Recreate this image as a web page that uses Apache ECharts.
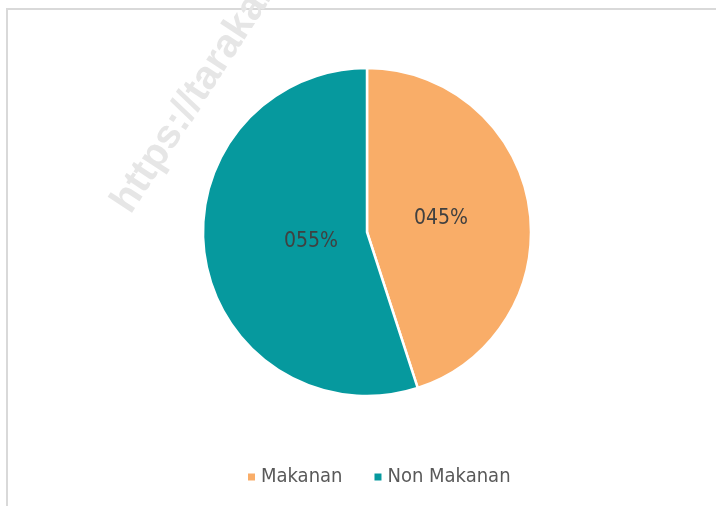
<!DOCTYPE html>
<html>
<head>
<meta charset="utf-8">
<script src="https://cdn.jsdelivr.net/npm/echarts@6/dist/echarts.min.js"></script>
<style>
  html, body { margin: 0; padding: 0; background: #fff; }
  #chart { width: 716px; height: 506px; }
</style>
</head>
<body>
<div id="chart"></div>
<script>
var categories = ['Makanan', 'Non Makanan'];
var shares = [45, 55];
var colors = ['#F9AD68', '#06999E'];

var font = '"DejaVu Sans Condensed", "Liberation Sans Narrow", "Arial Narrow", sans-serif';

var myChart = echarts.init(document.getElementById('chart'));
var option = {
  backgroundColor: '#fff',
  color: colors,
  graphic: [
    {
      type: 'rect',
      z: 0,
      shape: { x: 7, y: 9, width: 720, height: 510 },
      style: { fill: 'none', stroke: '#d9d9d9', lineWidth: 2 }
    },
    {
      type: 'text',
      z: 0,
      x: 138, y: 220,
      rotation: 57 * Math.PI / 180,
      style: {
        text: 'https://tarakankota.bps.go.id',
        fontSize: 40,
        fontWeight: 'bold',
        fontFamily: '"Liberation Sans", Arial, sans-serif',
        fill: '#e6e6e6',
        textVerticalAlign: 'bottom'
      }
    }
  ],
  legend: {
    bottom: 14,
    left: 241,
    icon: 'rect',
    itemWidth: 9,
    itemHeight: 9,
    itemGap: 30,
    textStyle: { fontSize: 20, color: '#595959', fontFamily: font },
    data: categories
  },
  series: [
    {
      name: 'Pengeluaran',
      type: 'pie',
      center: [367, 232],
      radius: [0, 164],
      startAngle: 90,
      clockwise: true,
      z: 2,
      itemStyle: { borderColor: '#fff', borderWidth: 2.5 },
      label: {
        show: true,
        position: 'inside',
        fontSize: 21,
        color: '#404040',
        fontFamily: font,
        formatter: function (p) {
          return '0' + p.value + '%';
        }
      },
      labelLine: { show: false },
      labelLayout: function (p) {
        // Excel pulls the big slice's label toward the centre
        return p.dataIndex === 0 ? { dx: -10, dy: 0 } : { dx: 28, dy: -4 };
      },
      emphasis: { disabled: true },
      data: categories.map(function (c, i) {
        return { name: c, value: shares[i] };
      })
    }
  ]
};
myChart.setOption(option);
</script>
</body>
</html>
